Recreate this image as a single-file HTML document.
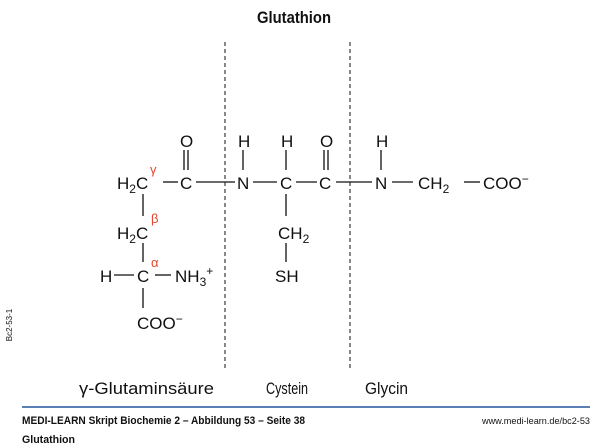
<!DOCTYPE html>
<html><head><meta charset="utf-8"><style>
html,body{margin:0;padding:0;background:#fff;width:600px;height:448px;overflow:hidden}
svg{display:block}
text{font-family:"Liberation Sans",sans-serif;fill:#111}
.r{fill:#e8452c;font-size:13px}
</style></head><body>
<svg width="600" height="448" viewBox="0 0 600 448">
<text x="257" y="23" font-size="17" font-weight="bold" textLength="74" lengthAdjust="spacingAndGlyphs">Glutathion</text>
<g stroke="#888" stroke-width="2" stroke-dasharray="4,3">
<line x1="225" y1="42" x2="225" y2="368"/><line x1="350" y1="42" x2="350" y2="368"/>
</g>
<g stroke="#111" stroke-width="1.3">
<line x1="163" y1="182" x2="178" y2="182"/>
<line x1="184" y1="150" x2="184" y2="170"/><line x1="188" y1="150" x2="188" y2="170"/>
<line x1="196" y1="182" x2="235" y2="182"/>
<line x1="243" y1="150" x2="243" y2="170"/>
<line x1="253" y1="182" x2="277" y2="182"/>
<line x1="286" y1="150" x2="286" y2="170"/>
<line x1="296" y1="182" x2="317" y2="182"/>
<line x1="324" y1="150" x2="324" y2="170"/><line x1="328" y1="150" x2="328" y2="170"/>
<line x1="336" y1="182" x2="372" y2="182"/>
<line x1="381" y1="150" x2="381" y2="170"/>
<line x1="392" y1="182" x2="413" y2="182"/>
<line x1="464" y1="182" x2="480" y2="182"/>
<line x1="143" y1="194" x2="143" y2="216"/>
<line x1="143" y1="243" x2="143" y2="262"/>
<line x1="114" y1="275" x2="134" y2="275"/>
<line x1="155" y1="275" x2="171" y2="275"/>
<line x1="143" y1="288" x2="143" y2="308"/>
<line x1="286" y1="194" x2="286" y2="216"/>
<line x1="286" y1="243" x2="286" y2="262"/>
</g>
<g font-size="17">
<text x="117" y="189">H<tspan font-size="12" dy="4">2</tspan><tspan dy="-4">C</tspan></text>
<text x="180" y="189">C</text>
<text x="180" y="147">O</text>
<text x="237" y="189">N</text>
<text x="238" y="147">H</text>
<text x="280" y="189">C</text>
<text x="281" y="147">H</text>
<text x="319" y="189">C</text>
<text x="320" y="147">O</text>
<text x="375" y="189">N</text>
<text x="376" y="147">H</text>
<text x="418" y="189">CH<tspan font-size="12" dy="4">2</tspan></text>
<text x="483" y="189">COO<tspan font-size="12" dy="-6">−</tspan></text>
<text x="117" y="239">H<tspan font-size="12" dy="4">2</tspan><tspan dy="-4">C</tspan></text>
<text x="100" y="282">H</text>
<text x="137" y="282">C</text>
<text x="175" y="282">NH<tspan font-size="12" dy="4">3</tspan><tspan font-size="12" dy="-11">+</tspan></text>
<text x="137" y="329">COO<tspan font-size="12" dy="-6">−</tspan></text>
<text x="278" y="239">CH<tspan font-size="12" dy="4">2</tspan></text>
<text x="275" y="282">SH</text>
</g>
<text x="150" y="174" class="r">γ</text>
<text x="151" y="223" class="r">β</text>
<text x="151" y="267" class="r">α</text>
<g font-size="17">
<text x="79" y="394" textLength="135" lengthAdjust="spacingAndGlyphs">γ-Glutaminsäure</text>
<text x="266" y="394" textLength="42" lengthAdjust="spacingAndGlyphs">Cystein</text>
<text x="365" y="394" textLength="43" lengthAdjust="spacingAndGlyphs">Glycin</text>
</g>
<line x1="22" y1="407" x2="590" y2="407" stroke="#5a7fb5" stroke-width="2"/>
<text x="22" y="424" font-size="11" font-weight="bold" textLength="283" lengthAdjust="spacingAndGlyphs">MEDI-LEARN Skript Biochemie 2 – Abbildung 53 – Seite 38</text>
<text x="22" y="443" font-size="11" font-weight="bold" textLength="53" lengthAdjust="spacingAndGlyphs">Glutathion</text>
<text x="482" y="424" font-size="9.5" fill="#333" textLength="108" lengthAdjust="spacingAndGlyphs">www.medi-learn.de/bc2-53</text>
<text x="12" y="325" font-size="8" fill="#444" text-anchor="middle" transform="rotate(-90 12 325)">Bc2-53-1</text>
</svg>
</body></html>
